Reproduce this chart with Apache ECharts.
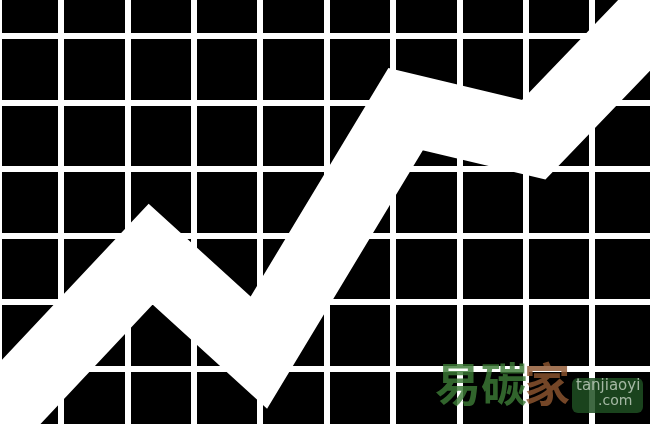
<!DOCTYPE html>
<html>
<head>
<meta charset="utf-8">
<script src="https://cdn.jsdelivr.net/npm/echarts@6/dist/echarts.min.js"></script>
<style>
html,body{margin:0;padding:0;background:#ffffff;width:650px;height:424px;overflow:hidden;}
#chart{position:absolute;left:2px;top:0;width:648px;height:424px;}
</style>
</head>
<body>
<div id="chart"></div>
<script>
// Axis ranges (grid cells)
var xRange = [0, 10];
var yRange = [0, 7];
// Zigzag trend line vertices (axis units)
var trendX = [-0.97, 2.35, 3.98, 6.19, 8.12, 10.93];
var trendY = [-0.81, 2.72, 1.24, 4.90, 4.44, 7.36];
// Watermark texts
var markCN1 = '易碳';
var markCN2 = '家';
var markEN1 = 'tanjiaoyi';
var markEN2 = '.com';

var data = trendX.map(function (x, i) { return [x, trendY[i]]; });

var chart = echarts.init(document.getElementById('chart'), null, {renderer: 'canvas'});
chart.setOption({
  backgroundColor: '#000000',
  animation: false,
  grid: {left: -7.4, top: -30.5, width: 664, height: 465.5, containLabel: false, outerBoundsMode: 'none'},
  xAxis: {
    type: 'value', min: xRange[0], max: xRange[1], interval: 1,
    axisLine: {show: false}, axisTick: {show: false}, axisLabel: {show: false},
    splitLine: {show: true, lineStyle: {color: '#ffffff', width: 6}}
  },
  yAxis: {
    type: 'value', min: yRange[0], max: yRange[1], interval: 1,
    axisLine: {show: false}, axisTick: {show: false}, axisLabel: {show: false},
    splitLine: {show: true, lineStyle: {color: '#ffffff', width: 6}}
  },
  series: [{
    type: 'line',
    data: data,
    symbol: 'none',
    clip: false,
    silent: true,
    lineStyle: {color: '#ffffff', width: 72, join: 'miter', miterLimit: 20, cap: 'butt'}
  }],
  graphic: [
    {type: 'text', left: 433, top: 361, z: 100,
      style: {text: markCN1, fill: '#3c7a36', opacity: 0.82, font: 'bold 46px "Noto Sans CJK SC"'}},
    {type: 'text', left: 522, top: 361, z: 100,
      style: {text: markCN2, fill: '#8e5530', opacity: 0.82, font: 'bold 46px "Noto Sans CJK SC"'}},
    {type: 'rect', left: 570, top: 378, z: 100,
      shape: {width: 71, height: 35, r: 6},
      style: {fill: '#1f4f22', opacity: 0.85}},
    {type: 'text', left: 574, top: 379, z: 101,
      style: {text: markEN1, fill: '#b4c4b2', opacity: 0.9, font: '15px "DejaVu Sans"'}},
    {type: 'text', left: 596, top: 394, z: 101,
      style: {text: markEN2, fill: '#b4c4b2', opacity: 0.9, font: '14px "DejaVu Sans"'}}
  ]
});
</script>
</body>
</html>
